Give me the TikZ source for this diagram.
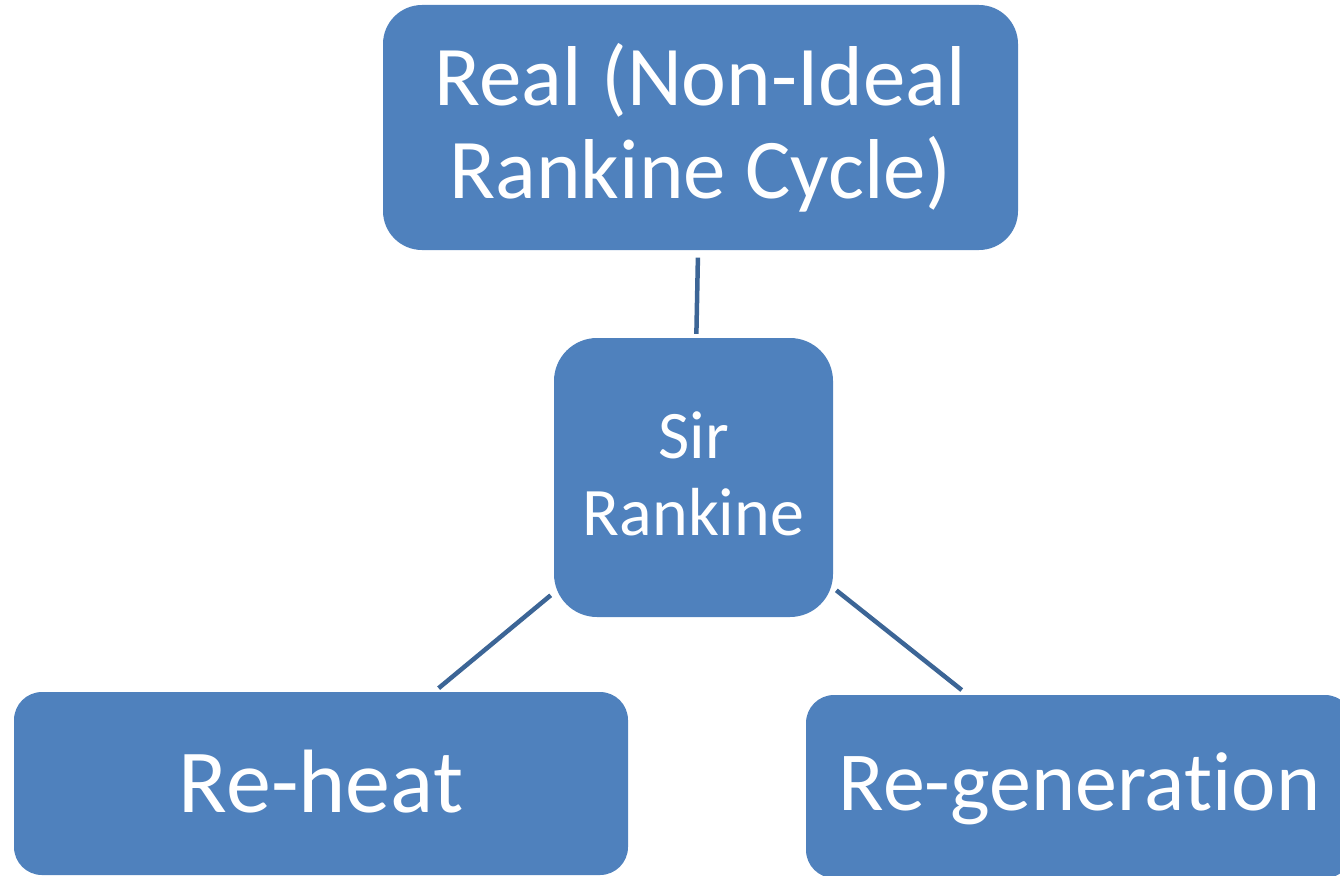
\documentclass[tikz,border=0pt]{standalone}
\usepackage{fontspec}
\setmainfont{Carlito}[Ligatures=NoCommon]
\definecolor{boxblue}{HTML}{4F81BD}
\definecolor{linkblue}{HTML}{3C6596}

\begin{document}
\begin{tikzpicture}[x=1pt,y=-1pt,
    box/.style={rectangle, rounded corners=#1, fill=boxblue, text=white, inner sep=0pt, align=center},
    link/.style={draw=linkblue, line width=4.5pt}]
    \useasboundingbox (0,0) rectangle (1340,875);

    % the four boxes
    \node[box=39pt, minimum width=635pt, minimum height=245pt, text height=150pt, text depth=9pt,
        font=\fontsize{85}{93}\selectfont] (real) at (700.5,127.5) {Real (Non-Ideal\\Rankine Cycle)};
    \node[box=43pt, minimum width=279pt, minimum height=279pt, text height=125pt, text depth=10pt,
        font=\fontsize{68}{77}\selectfont] (sir) at (693.5,477.5) {Sir\\Rankine};
    \node[box=28pt, minimum width=614pt, minimum height=183pt, text height=70pt, text depth=13pt,
        font=\fontsize{90}{109}\selectfont] (reheat) at (321,783.5) {Re-heat};
    \node[box=28pt, minimum width=547pt, minimum height=183pt, text height=65pt, text depth=18pt,
        font=\fontsize{84}{100}\selectfont] (regen) at (1079.5,786.5) {Re-generation};

    % where the lower links meet the boxes
    \coordinate (reheat-top) at (434,692);
    \coordinate (regen-top) at (968,695);

    \draw[link, shorten <=7.5pt, shorten >=4pt] (real) -- (sir);
    \draw[link, shorten <=4pt, shorten >=6pt] (sir) -- (reheat-top);
    \draw[link, shorten <=4pt, shorten >=8pt] (sir) -- (regen-top);
\end{tikzpicture}
\end{document}
